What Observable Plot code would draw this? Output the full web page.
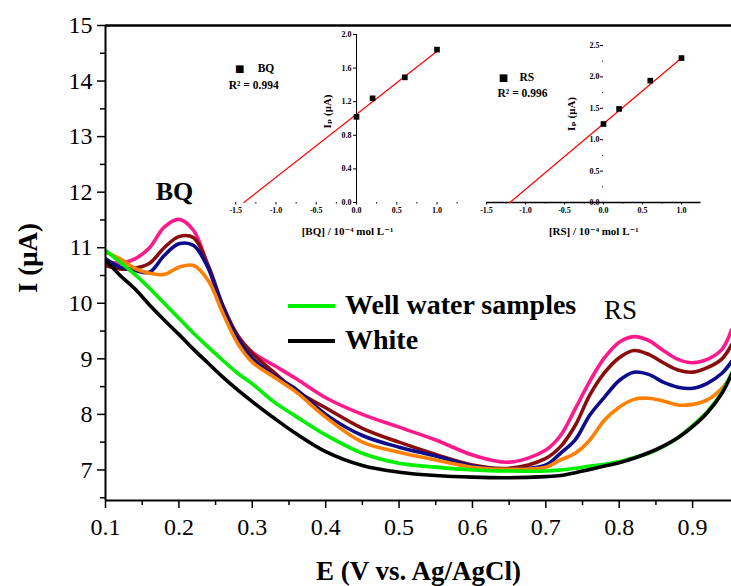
<!DOCTYPE html>
<html><head><meta charset="utf-8">
<script src="https://cdn.jsdelivr.net/npm/d3@7"></script>
<script src="https://cdn.jsdelivr.net/npm/@observablehq/plot@0.6"></script>
<style>
html,body{margin:0;padding:0;background:#fff;font-family:"Liberation Serif","DejaVu Serif",serif;}
#wrap{position:relative;width:731px;height:586px;overflow:hidden;background:#fff;}
#wrap svg{position:absolute;left:0;top:0;font-family:"Liberation Serif","DejaVu Serif",serif;}
.lg{position:absolute;font-family:"Liberation Serif","DejaVu Serif",serif;font-weight:bold;font-size:28px;line-height:1;white-space:nowrap;}
.sw{position:absolute;height:4px;width:47px;}
</style></head><body><div id="wrap"></div>
<script>
// ---- main DPV curves (E in V, I in µA) ----
const E = [0.10,0.12,0.14,0.16,0.18,0.20,0.22,0.24,0.26,0.28,0.30,0.33,0.36,0.40,0.45,0.50,0.55,0.60,0.65,0.70,0.72,0.74,0.76,0.78,0.80,0.82,0.84,0.86,0.88,0.90,0.92,0.94,0.953];
const pinkI   = [10.75,10.72,10.8,11.0,11.37,11.51,11.31,10.65,9.91,9.42,9.12,8.88,8.64,8.3,8.0,7.77,7.54,7.27,7.14,7.36,7.62,8.1,8.6,9.02,9.3,9.4,9.33,9.15,8.99,8.93,8.99,9.17,9.52];
const maroonI = [10.68,10.62,10.63,10.72,11.0,11.2,11.18,10.68,9.96,9.42,9.1,8.75,8.42,8.12,7.75,7.5,7.28,7.09,7.03,7.21,7.42,7.8,8.35,8.75,9.02,9.15,9.08,8.93,8.8,8.76,8.84,9.0,9.25];
const blueI   = [10.8,10.65,10.59,10.56,10.86,11.07,11.04,10.63,9.93,9.37,9.01,8.7,8.45,8.0,7.62,7.41,7.25,7.07,7.01,7.09,7.3,7.54,7.99,8.31,8.61,8.76,8.72,8.58,8.49,8.47,8.56,8.74,8.95];
const orangeI = [10.92,10.8,10.63,10.54,10.52,10.65,10.68,10.41,9.82,9.28,8.94,8.67,8.4,7.95,7.5,7.32,7.18,7.05,7.01,7.05,7.18,7.3,7.54,7.9,8.13,8.27,8.29,8.24,8.17,8.18,8.26,8.47,8.7];
const wellI   = [10.95,10.74,10.52,10.27,10.0,9.73,9.46,9.21,8.97,8.74,8.55,8.22,7.96,7.63,7.3,7.12,7.05,7.0,6.98,6.98,7.0,7.03,7.07,7.1,7.15,7.22,7.3,7.42,7.58,7.8,8.05,8.4,8.75];
const whiteI  = [10.78,10.5,10.26,9.97,9.7,9.44,9.17,8.92,8.67,8.44,8.23,7.93,7.65,7.33,7.08,6.96,6.9,6.87,6.86,6.88,6.9,6.95,7.01,7.07,7.13,7.21,7.31,7.43,7.58,7.78,8.03,8.38,8.72];
const curveValues = [pinkI, maroonI, blueI, orangeI, wellI, whiteI];
const curveColors = ["#ff1a8c","#8b0c0c","#0c0c8c","#ff8000","#00f000","#000000"];
const xTicks = [0.1,0.2,0.3,0.4,0.5,0.6,0.7,0.8,0.9];
const xMinor = [0.15,0.25,0.35,0.45,0.55,0.65,0.75,0.85];
const yTicks = [7,8,9,10,11,12,13,14,15];
const yMinor = [6.5,7.5,8.5,9.5,10.5,11.5,12.5,13.5,14.5];
const legendLabels = ["Well water samples","White"];
const legendColors = ["#00f000","#000000"];

// ---- inset calibration data ----
const bqConc = [0, 0.2, 0.6, 1.0];
const bqIp   = [1.02, 1.24, 1.49, 1.82];
const bqFitX = [-1.4, 1.0];
const bqFitY = [0, 1.80];
const rsConc = [0, 0.2, 0.6, 1.0];
const rsIp   = [1.25, 1.49, 1.94, 2.30];
const rsFitX = [-1.2, 1.0];
const rsFitY = [0, 2.30];
const bqXTicks = [-1.5,-1.0,-0.5,0,0.5,1.0];
const bqXMinor = [-1.25,-0.75,-0.25,0.25,0.75,1.25];
const bqYTicks = [0,0.4,0.8,1.2,1.6,2.0];
const rsXTicks = [-1.5,-1.0,-0.5,0,0.5,1.0];
const rsXMinor = [-1.25,-0.75,-0.25,0.25,0.75];
const rsYTicks = [0,0.5,1.0,1.5,2.0,2.5];
const rsYMinor = [0.25,0.75,1.25,1.75,2.25];

const FONT = "Liberation Serif, DejaVu Serif, serif";
const W = 731, H = 586;
const wrap = document.getElementById("wrap");

const rows = curveValues.flatMap((vals, k) => E.map((e, i) => ({E: e, I: vals[i], k})));
const f1 = d => d.toFixed(1);
const T = (s, o) => Plot.text([s], {text: d => d, fontFamily: FONT, textAnchor: "middle", lineAnchor: "middle", ...o});

const main = Plot.plot({
  width: W, height: H,
  marginLeft: 105, marginRight: 0, marginTop: 25, marginBottom: 86,
  x: {domain: [0.1, 0.953]},
  y: {domain: [6.45, 15]},
  style: {fontFamily: FONT, background: "transparent", color: "#000"},
  marks: [
    Plot.axisY({ticks: yTicks, tickSize: 8, tickPadding: 5, fontSize: 24, fontFamily: FONT, tickFormat: d => String(d), label: null, strokeWidth: 1.5}),
    Plot.axisY({ticks: yMinor, tickSize: 5, text: null, label: null, strokeWidth: 1.5}),
    Plot.axisX({ticks: xTicks, tickSize: 8, tickPadding: 9, fontSize: 24, fontFamily: FONT, tickFormat: f1, label: null, strokeWidth: 1.5}),
    Plot.axisX({ticks: xMinor, tickSize: 5, text: null, label: null, strokeWidth: 1.5}),
    Plot.line(rows, {x: "E", y: "I", z: "k", stroke: d => curveColors[d.k], strokeWidth: 3.6, curve: "catmull-rom", clip: true}),
    Plot.ruleX([0.1], {strokeWidth: 2}),
    Plot.ruleY([15], {strokeWidth: 2.5}),
    Plot.ruleY([6.45], {strokeWidth: 2}),
    T("I (μA)", {frameAnchor: "left", dx: -77, dy: -5, rotate: -90, fontSize: 27, fontWeight: "bold"}),
    T("E (V vs. Ag/AgCl)", {frameAnchor: "bottom", dy: 71, fontSize: 27, fontWeight: "bold"}),
    T("BQ", {frameAnchor: "top-left", dx: 69, dy: 166, fontSize: 26, fontWeight: "bold"}),
    T("RS", {frameAnchor: "top-left", dx: 515, dy: 285, fontSize: 27})
  ]
});
wrap.appendChild(main);

// ---- BQ inset ----
const bqL = 356 - 1.6 * 80.5, bqR = 356 + 1.5 * 80.5;
const bq = Plot.plot({
  width: W, height: H,
  marginLeft: bqL, marginRight: W - bqR, marginTop: 34, marginBottom: H - 202,
  x: {domain: [-1.6, 1.5]}, y: {domain: [0, 2.0], axis: null},
  style: {fontFamily: FONT, background: "transparent", color: "#000"},
  marks: [
    Plot.axisX({ticks: bqXTicks, tickSize: 2.5, tickPadding: 2, fontSize: 8, fontWeight: "bold", fontFamily: FONT, tickFormat: f1, label: null}),
    Plot.axisX({ticks: bqXMinor, tickSize: 1.5, text: null, label: null}),
    Plot.line(bqFitX.map((x, i) => ({x, y: bqFitY[i]})), {x: "x", y: "y", stroke: "#ff0000", strokeWidth: 1.2}),
    Plot.dot(bqConc.map((c, i) => ({c, v: bqIp[i]})), {x: "c", y: "v", symbol: "square", r: 3.2, fill: "#000"}),
    T("■", {frameAnchor: "top-left", dx: 12, dy: 34, fontSize: 10, fontFamily: "DejaVu Sans"}),
    T("BQ", {frameAnchor: "top-left", dx: 30, dy: 34, fontSize: 11.5, fontWeight: "bold", textAnchor: "start"}),
    T("R² = 0.994", {frameAnchor: "top-left", dx: 1, dy: 51, fontSize: 11.5, fontWeight: "bold", textAnchor: "start"}),
    T("[BQ] / 10⁻⁴ mol L⁻¹", {frameAnchor: "bottom", dx: -5, dy: 29, fontSize: 11, fontWeight: "bold"})
  ]
});
wrap.appendChild(bq);
const bqY = Plot.plot({
  width: W, height: H,
  marginLeft: 356, marginRight: W - 437, marginTop: 34, marginBottom: H - 202,
  x: {domain: [0, 1], axis: null}, y: {domain: [0, 2.0]},
  style: {fontFamily: FONT, background: "transparent", color: "#000"},
  marks: [
    Plot.axisY({ticks: bqYTicks, tickSize: 3, tickPadding: 2, fontSize: 8, fontWeight: "bold", fontFamily: FONT, tickFormat: f1, label: null}),
    Plot.ruleX([0], {strokeWidth: 1}),
    T("Iₚ (μA)", {frameAnchor: "left", dx: -29, dy: -7, rotate: -90, fontSize: 11, fontWeight: "bold"})
  ]
});
wrap.appendChild(bqY);

// ---- RS inset ----
const rsL = 603 - 1.5 * 78, rsR = 603 + 1.25 * 78;
const rs = Plot.plot({
  width: W, height: H,
  marginLeft: rsL, marginRight: W - rsR, marginTop: 45, marginBottom: H - 202,
  x: {domain: [-1.5, 1.25]}, y: {domain: [0, 2.5], axis: null},
  style: {fontFamily: FONT, background: "transparent", color: "#000"},
  marks: [
    Plot.axisX({ticks: rsXTicks, tickSize: 2.5, tickPadding: 2, fontSize: 8, fontWeight: "bold", fontFamily: FONT, tickFormat: f1, label: null}),
    Plot.axisX({ticks: rsXMinor, tickSize: 1.5, text: null, label: null}),
    Plot.ruleY([0], {strokeWidth: 1.3}),
    Plot.line(rsFitX.map((x, i) => ({x, y: rsFitY[i]})), {x: "x", y: "y", stroke: "#ff0000", strokeWidth: 1.2}),
    Plot.dot(rsConc.map((c, i) => ({c, v: rsIp[i]})), {x: "c", y: "v", symbol: "square", r: 3.2, fill: "#000"}),
    T("■", {frameAnchor: "top-left", dx: 17, dy: 32, fontSize: 10, fontFamily: "DejaVu Sans"}),
    T("RS", {frameAnchor: "top-left", dx: 33, dy: 32, fontSize: 11.5, fontWeight: "bold", textAnchor: "start"}),
    T("R² = 0.996", {frameAnchor: "top-left", dx: 11, dy: 48, fontSize: 11.5, fontWeight: "bold", textAnchor: "start"}),
    T("[RS] / 10⁻⁴ mol L⁻¹", {frameAnchor: "bottom", dx: 0, dy: 29, fontSize: 11, fontWeight: "bold"})
  ]
});
wrap.appendChild(rs);
const rsY = Plot.plot({
  width: W, height: H,
  marginLeft: 603, marginRight: W - 681, marginTop: 45, marginBottom: H - 202,
  x: {domain: [0, 1], axis: null}, y: {domain: [0, 2.5]},
  style: {fontFamily: FONT, background: "transparent", color: "#000"},
  marks: [
    Plot.axisY({ticks: rsYTicks, tickSize: 3, tickPadding: 1, fontSize: 8, fontWeight: "bold", fontFamily: FONT, tickFormat: f1, label: null}),
    Plot.axisY({ticks: rsYMinor, tickSize: 1, text: null, label: null}),
    T("Iₚ (μA)", {frameAnchor: "left", dx: -32, dy: -10, rotate: -90, fontSize: 11, fontWeight: "bold"})
  ]
});
wrap.appendChild(rsY);

// ---- legend (HTML, inside plot area) ----
legendLabels.forEach((lab, i) => {
  const top = 306 + i * 35;
  const sw = document.createElement("div");
  sw.className = "sw"; sw.style.left = "288px"; sw.style.top = (top - 2) + "px"; sw.style.background = legendColors[i];
  wrap.appendChild(sw);
  const t = document.createElement("div");
  t.className = "lg"; t.textContent = lab; t.style.left = "345px"; t.style.top = (top - 15) + "px";
  wrap.appendChild(t);
});
</script></body></html>
